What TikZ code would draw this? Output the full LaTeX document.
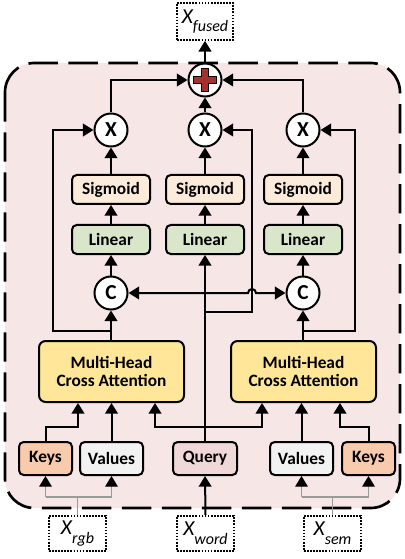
\documentclass[tikz,border=0pt]{standalone}
\usepackage{fontspec}
\setmainfont{Carlito}
\usetikzlibrary{arrows.meta,calc}

\definecolor{panelbg}{HTML}{F6E6E6}
\definecolor{keyfill}{HTML}{F8CBAD}
\definecolor{valfill}{HTML}{F2F2F2}
\definecolor{qryfill}{HTML}{F0D8D8}
\definecolor{sigfill}{HTML}{FCEADB}
\definecolor{linfill}{HTML}{D9E6C9}
\definecolor{attfill}{HTML}{FFE699}
\definecolor{plusred}{HTML}{A3312C}
\definecolor{thinline}{HTML}{9A9A9A}

\begin{document}
\begin{tikzpicture}[x=0.75pt,y=-0.75pt,
  blk/.style={draw, line width=1.5pt, rounded corners=3.5pt, inner sep=0pt,
    font=\fontsize{13}{15}\selectfont\bfseries, align=center},
  sigbox/.style={blk, fill=sigfill, minimum width=58.5pt, minimum height=21.75pt},
  linbox/.style={blk, fill=linfill, minimum width=58.5pt, minimum height=21.75pt},
  attbox/.style={blk, fill=attfill, minimum width=108.75pt, minimum height=45.75pt, rounded corners=5pt},
  inbox/.style={blk, minimum height=24.75pt},
  opc/.style={circle, draw, line width=1.5pt, fill=white, minimum size=24.75pt, inner sep=0pt,
    font=\fontsize{16}{16}\selectfont\bfseries},
  io/.style={draw, densely dotted, line width=1.3pt, inner sep=0pt, fill=white,
    font=\fontsize{16}{16}\selectfont\itshape},
  arr/.style={line width=1.5pt, -{Triangle[length=8pt,width=9.5pt]}},
  thin/.style={draw=thinline, line width=0.8pt, -{Triangle[length=8pt,width=9.5pt,color=black]}}
]
\useasboundingbox (0,0) rectangle (404,559);

% dashed panel
\draw[fill=panelbg, line width=2pt, dash pattern=on 22pt off 8pt, rounded corners=22pt]
  (5,63) rectangle (400,508);

% fusion node with red cross
\node[circle, draw, line width=1.5pt, fill=white, minimum size=24.75pt] (plus) at (205,80) {};
\draw[fill=plusred, line width=0.9pt]
  ($(plus)+(-3.8,-11.5)$) -- ($(plus)+(3.8,-11.5)$) -- ($(plus)+(3.8,-3.8)$) -- ($(plus)+(11.5,-3.8)$)
  -- ($(plus)+(11.5,3.8)$) -- ($(plus)+(3.8,3.8)$) -- ($(plus)+(3.8,11.5)$) -- ($(plus)+(-3.8,11.5)$)
  -- ($(plus)+(-3.8,3.8)$) -- ($(plus)+(-11.5,3.8)$) -- ($(plus)+(-11.5,-3.8)$) -- ($(plus)+(-3.8,-3.8)$) -- cycle;

% output / input placeholders
\node[io, minimum width=42pt, minimum height=27.75pt] (xfused) at (205,21.5)
  {X\raisebox{-6.5pt}{\fontsize{12}{12}\selectfont fused}};
\node[io, minimum width=42.75pt, minimum height=26.25pt] (xrgb) at (77.5,533.5)
  {X\raisebox{-6.5pt}{\fontsize{12}{12}\selectfont rgb}};
\node[io, minimum width=42.75pt, minimum height=26.25pt] (xword) at (205.5,533.5)
  {X\raisebox{-6.5pt}{\fontsize{12}{12}\selectfont word}};
\node[io, minimum width=42.75pt, minimum height=26.25pt] (xsem) at (332.5,533.5)
  {X\raisebox{-6.5pt}{\fontsize{12}{12}\selectfont sem}};

% multiplication nodes
\node[opc] (xl) at (111,130) {X};
\node[opc] (xm) at (205,130) {X};
\node[opc] (xr) at (303,130) {X};

% gates
\node[sigbox] (sl) at (111,189.5) {Sigmoid};
\node[sigbox] (sm) at (205,189.5) {Sigmoid};
\node[sigbox] (sr) at (303,189.5) {Sigmoid};
\node[linbox] (ll) at (111,239.5) {Linear};
\node[linbox] (lm) at (205,239.5) {Linear};
\node[linbox] (lr) at (303,239.5) {Linear};

% concatenation nodes
\node[opc] (cl) at (111,293) {C};
\node[opc] (cr) at (303,293) {C};

% cross attention blocks
\node[attbox] (ml) at (111.5,371.5) {Multi-Head\\[-1pt]Cross Attention};
\node[attbox] (mr) at (303.5,371.5) {Multi-Head\\[-1pt]Cross Attention};

% token projections
\node[inbox, fill=keyfill, minimum width=39.75pt] (kl) at (45.5,458.5) {Keys};
\node[inbox, fill=valfill, minimum width=47.25pt] (vl) at (111.5,458.5) {Values};
\node[inbox, fill=qryfill, minimum width=48pt] (q) at (205,458.5) {Query};
\node[inbox, fill=valfill, minimum width=47.25pt] (vr) at (301.5,458.5) {Values};
\node[inbox, fill=keyfill, minimum width=39.75pt] (kr) at (368.5,458.5) {Keys};

% routing points
\coordinate (fl) at (53,331);
\coordinate (fr) at (355,331);
\coordinate (fm) at (252,312);
\coordinate (kla) at (78,427);
\coordinate (kra) at (340,427);
\coordinate (qa) at (155,427);
\coordinate (qb) at (262,427);
\coordinate (gsplit) at (0,497);

% fusion output
\draw[arr] (plus.north) -- (xfused.south);
\draw[arr] (xm.north) -- (plus.south);
\draw[arr] (xl.north) |- (plus.west);
\draw[arr] (xr.north) |- (plus.east);

% gate columns
\foreach \s/\x in {sl/xl,sm/xm,sr/xr} \draw[arr] (\s.north) -- (\x.south);
\foreach \l/\s in {ll/sl,lm/sm,lr/sr} \draw[arr] (\l.north) -- (\s.south);
\draw[arr] (cl.north) -- (ll.south);
\draw[arr] (cr.north) -- (lr.south);
\draw[arr] (q.north) -- (lm.south);

% attention outputs to concatenation and residual paths
\draw[arr] (cl|-ml.north) -- (cl.south);
\draw[arr] (cr|-mr.north) -- (cr.south);
\draw[arr] (cl|-fl) -- (fl) |- (xl.west);
\draw[arr] (cr|-fr) -- (fr) |- (xr.east);
\draw[arr] (lm|-fm) -- (fm) |- (xm.east);

% query shared with both concatenations, hopping over the residual line
\draw[line width=1.5pt, {Triangle[length=8pt,width=9.5pt]}-{Triangle[length=8pt,width=9.5pt]}]
  (cl.east) -- ($(fm|-cl)+(-4,0)$) arc (180:360:4) -- (cr.west);

% inputs to attention
\draw[arr] (kl.north) |- (kla) -- (kla|-ml.south);
\draw[arr] (vl.north) -- (vl.north|-ml.south);
\draw[arr] (q.north|-qa) -| (qa|-ml.south);
\draw[arr] (q.north|-qb) -| (qb|-mr.south);
\draw[arr] (vr.north) -- (vr.north|-mr.south);
\draw[arr] (kr.north) |- (kra) -- (kra|-mr.south);

% feature inputs
\draw[arr] (xword.north) -- (q.south);
\draw[draw=thinline, line width=0.8pt] (xrgb.north) -- (xrgb.north|-gsplit);
\draw[draw=thinline, line width=0.8pt] (kl.south|-gsplit) -- (vl.south|-gsplit);
\draw[thin] (kl.south|-gsplit) -- (kl.south);
\draw[thin] (vl.south|-gsplit) -- (vl.south);
\draw[draw=thinline, line width=0.8pt] (xsem.north) -- (xsem.north|-gsplit);
\draw[draw=thinline, line width=0.8pt] (vr.south|-gsplit) -- (kr.south|-gsplit);
\draw[thin] (vr.south|-gsplit) -- (vr.south);
\draw[thin] (kr.south|-gsplit) -- (kr.south);
\end{tikzpicture}
\end{document}
